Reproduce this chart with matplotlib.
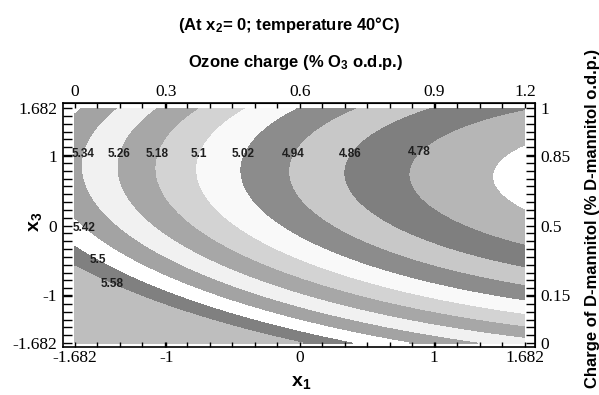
import numpy as np
import matplotlib
matplotlib.use("Agg")
import matplotlib.pyplot as plt

# quadratic response surface in coded units (x1 = ozone, x3 = D-mannitol), x2 = 0
# coefficients estimated from where the contour bands sit in the figure
b0, b1, b3 = 4.988, -0.210, -0.1694
b11, b33, b13 = 0.033, 0.110, 0.0106

levels = [4.62, 4.70, 4.78, 4.86, 4.94, 5.02, 5.10, 5.18, 5.26, 5.34, 5.42, 5.50, 5.58, 6.30]
band_colors = ['#ffffff', '#b6b6b6', '#7f7f7f', '#c8c8c8', '#8c8c8c', '#f9f9f9',
               '#d3d3d3', '#a7a7a7', '#f1f1f1', '#a3a3a3', '#ffffff', '#808080', '#bebebe']

# contour labels and roughly where they are written
label_levels = [5.34, 5.26, 5.18, 5.10, 5.02, 4.94, 4.86, 4.78, 5.42, 5.50, 5.58]
label_x1 = [-1.58, -1.31, -1.03, -0.72, -0.40, -0.02, 0.40, 0.92, -1.60, -1.50, -1.40]
label_x3 = [1.0, 1.0, 1.0, 1.0, 1.0, 1.0, 1.0, 1.0, 0.0, -0.46, -0.81]

coded_ticks = [-1.682, -1, 0, 1, 1.682]
coded_labels = ['-1.682', '-1', '0', '1', '1.682']
ozone_labels = ['0', '0.3', '0.6', '0.9', '1.2']
mannitol_labels = ['0', '0.15', '0.5', '0.85', '1']

plt.rcParams['font.family'] = 'Liberation Sans'
plt.rcParams['mathtext.fontset'] = 'custom'
plt.rcParams['mathtext.rm'] = 'Liberation Sans:bold'
plt.rcParams['mathtext.bf'] = 'Liberation Sans:bold'
plt.rcParams['mathtext.it'] = 'Liberation Sans:bold'


def response(x1, x3):
    return (b0 + b1 * x1 + b3 * x3 + b11 * x1 ** 2 + b33 * x3 ** 2
            + b13 * x1 * x3)


def main():
    g = np.linspace(-1.682, 1.682, 400)
    X1, X3 = np.meshgrid(g, g)
    Z = response(X1, X3)

    fig = plt.figure(figsize=(5.99, 3.95), dpi=100)
    ax = fig.add_axes([0.105, 0.1215, 0.788, 0.6175])

    ax.contourf(X1, X3, Z, levels=levels, colors=band_colors)
    for lv, px, py in zip(label_levels, label_x1, label_x3):
        line = ax.contour(X1, X3, Z, levels=[lv], linewidths=0)
        txts = ax.clabel(line, manual=[(px, py)], inline=False,
                         fmt=lambda v: f'{v:g}', fontsize=8.5, colors='#1e1e1e')
        for t in txts:
            t.set_rotation(0)
            t.set_fontweight('bold')

    ax.set_xlim(-1.772, 1.757)
    ax.set_ylim(-1.739, 1.754)

    ax.set_xticks(coded_ticks, coded_labels)
    ax.set_yticks(coded_ticks, coded_labels)
    ax.set_xticks(np.linspace(-1.682, 1.682, 21), minor=True)
    ax.set_yticks(np.linspace(-1.682, 1.682, 31), minor=True)
    ax.tick_params(axis='x', which='both', direction='in', top=True, bottom=True,
                   length=3.5, width=1, pad=2, labelsize=12.5)
    ax.tick_params(axis='y', which='both', direction='in', left=True, right=True,
                   length=6.5, width=1, pad=4, labelsize=12.5)
    for lbl in ax.get_xticklabels() + ax.get_yticklabels():
        lbl.set_fontfamily('Liberation Serif')
    for sp in ax.spines.values():
        sp.set_linewidth(1.2)

    top = ax.secondary_xaxis('top')
    top.set_xticks(coded_ticks, ozone_labels)
    top.tick_params(which='both', length=0, pad=2, labelsize=12.5)
    right = ax.secondary_yaxis('right')
    right.set_yticks(coded_ticks, mannitol_labels)
    right.tick_params(which='both', length=0, pad=4, labelsize=12.5)
    for lbl in top.get_xticklabels() + right.get_yticklabels():
        lbl.set_fontfamily('Liberation Serif')

    ax.set_xlabel(r'$\mathbf{x}_\mathbf{1}$', fontsize=14)
    ax.xaxis.set_label_coords(0.504, -0.112)
    ax.set_ylabel(r'$\mathbf{x}_\mathbf{3}$', fontsize=14)
    ax.yaxis.set_label_coords(-0.040, 0.512)

    fig.text(289 / 599, 1 - 25 / 395, r'(At x$_\mathbf{2}$= 0; temperature 40°C)',
             ha='center', va='center', fontsize=12, fontweight='bold')
    fig.text(296 / 599, 1 - 62 / 395, r'Ozone charge (% O$_\mathbf{3}$ o.d.p.)',
             ha='center', va='center', fontsize=12, fontweight='bold')
    fig.text(592 / 599, 0.448, 'Charge of D-mannitol (% D-mannitol o.d.p.)',
             rotation=90, ha='center', va='center', fontsize=12, fontweight='bold')

    fig.savefig('out.png', dpi=100)


if __name__ == "__main__":
    main()
